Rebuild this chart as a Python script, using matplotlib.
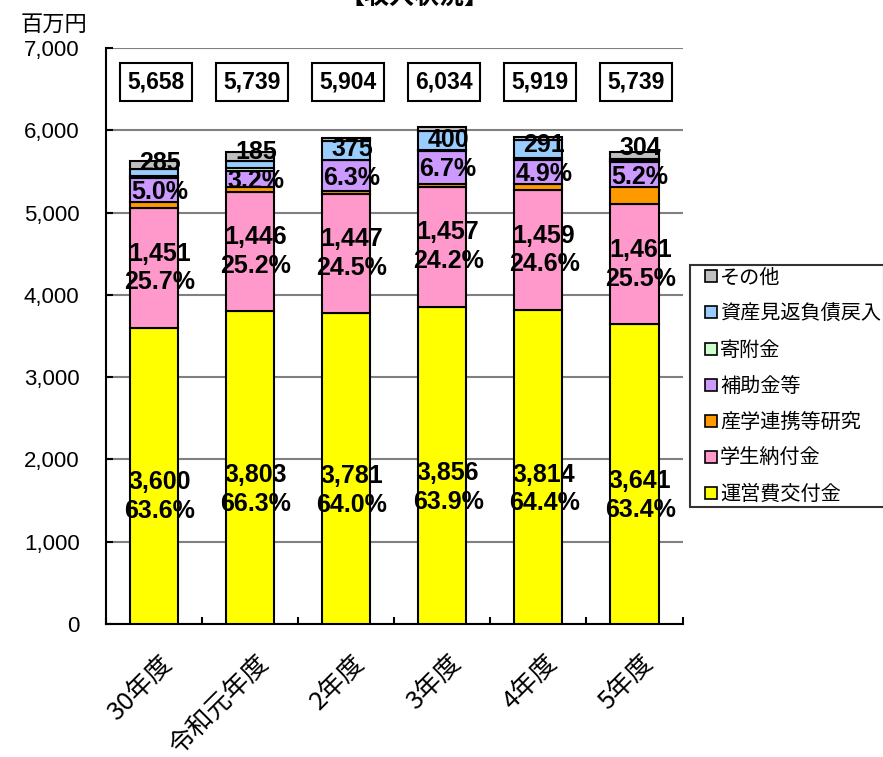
import matplotlib.pyplot as plt
from matplotlib.lines import Line2D

plt.rcParams['font.family'] = ['Liberation Sans', 'Noto Sans CJK JP', 'DejaVu Sans']

years = ['30年度', '令和元年度', '2年度', '3年度', '4年度', '5年度']
totals = [5658, 5739, 5904, 6034, 5919, 5739]

unei = [3600, 3803, 3781, 3856, 3814, 3641]          # 運営費交付金
gakusei = [1451, 1446, 1447, 1457, 1459, 1461]       # 学生納付金
sangaku = [80, 65, 30, 38, 72, 204]                  # 産学連携等研究
hojo = [285, 185, 375, 400, 291, 304]                # 補助金等
kifu = [30, 45, 10, 5, 28, 15]                       # 寄附金
shisan = [80, 82, 228, 240, 214, 20]                 # 資産見返負債戻入
sonota = [102, 113, 33, 38, 41, 94]                  # その他

unei_pct = ['63.6%', '66.3%', '64.0%', '63.9%', '64.4%', '63.4%']
gakusei_pct = ['25.7%', '25.2%', '24.5%', '24.2%', '24.6%', '25.5%']
hojo_pct = ['5.0%', '3.2%', '6.3%', '6.7%', '4.9%', '5.2%']

series = [
    ('運営費交付金', unei, '#FFFF00'),
    ('学生納付金', gakusei, '#FF99CC'),
    ('産学連携等研究', sangaku, '#FF9900'),
    ('補助金等', hojo, '#CC99FF'),
    ('寄附金', kifu, '#CCFFCC'),
    ('資産見返負債戻入', shisan, '#99CCFF'),
    ('その他', sonota, '#C0C0C0'),
]

fig = plt.figure(figsize=(8.83, 7.57), dpi=100)
ax = fig.add_axes([0.120, 0.1757, 0.653, 0.761])

x = list(range(len(years)))
bottom = [0] * len(years)
bottoms = {}
for name, vals, color in series:
    bottoms[name] = list(bottom)
    ax.bar(x, vals, width=0.5, bottom=bottom, color=color, edgecolor='black',
           linewidth=1.5, zorder=3)
    bottom = [b + v for b, v in zip(bottom, vals)]

ax.set_xlim(-0.5, 5.5)
ax.set_ylim(0, 7000)
ax.set_yticks(range(0, 7001, 1000))
ax.set_yticklabels([f'{v:,}' for v in range(0, 7001, 1000)], fontsize=16)
ax.yaxis.grid(True, color='#808080', linewidth=1.5, zorder=0)
ax.set_axisbelow(True)
for s in ['top', 'right']:
    ax.spines[s].set_visible(False)
for s in ['left', 'bottom']:
    ax.spines[s].set_linewidth(1.5)
ax.tick_params(axis='y', direction='in', length=5, width=1.5, pad=19)

ax.set_xticks([i + 0.06 for i in x])
ax.set_xticklabels(years, rotation=45, ha='right', rotation_mode='anchor',
                   fontsize=18.5, family=['Noto Sans CJK JP'])
ax.tick_params(axis='x', length=0, pad=19)
ax.set_xticks([i - 0.5 for i in range(len(years) + 1)], minor=True)
ax.tick_params(axis='x', which='minor', direction='in', length=5, width=1.5)

lab = dict(fontsize=18, fontweight='bold', ha='center', va='center', zorder=5,
           linespacing=1.25)
for i in range(len(years)):
    ax.text(i + 0.06, unei[i] * 0.43, f'{unei[i]:,}\n{unei_pct[i]}', **lab)
    g_mid = bottoms['学生納付金'][i] + gakusei[i] / 2
    ax.text(i + 0.06, g_mid, f'{gakusei[i]:,}\n{gakusei_pct[i]}', **lab)
    h_mid = bottoms['補助金等'][i] + hojo[i] / 2 + 150
    ax.text(i + 0.06, h_mid, f'{hojo[i]:,}\n{hojo_pct[i]}', **lab)
    ax.text(i + 0.02, 6585, f'{totals[i]:,}', fontsize=16.5, fontweight='bold',
            ha='center', va='center', zorder=5,
            bbox=dict(boxstyle='square,pad=0.32', fc='white', ec='black', lw=1.5))

fig.text(0.023, 0.968, '百万円', fontsize=16, family=['Noto Sans CJK JP'],
         ha='left', va='center')
fig.text(0.469, 1.004, '【収入状況】', fontsize=18, fontweight='bold',
         family=['Noto Sans CJK JP'], ha='center', va='center')

handles = [Line2D([], [], linestyle='none', marker='s', markersize=9,
                  markerfacecolor=c, markeredgecolor='black', markeredgewidth=1.2,
                  label=n) for n, _, c in series][::-1]
leg = fig.legend(handles=handles, loc='upper left', bbox_to_anchor=(0.781, 0.650),
                 frameon=True, fancybox=False, edgecolor='black',
                 handlelength=1.9, handletextpad=-0.5,
                 labelspacing=0.75, borderpad=0.12, borderaxespad=0,
                 prop={'family': ['Noto Sans CJK JP'], 'size': 14.5})
leg.get_frame().set_linewidth(1.5)

fig.savefig('out.png', dpi=100)
